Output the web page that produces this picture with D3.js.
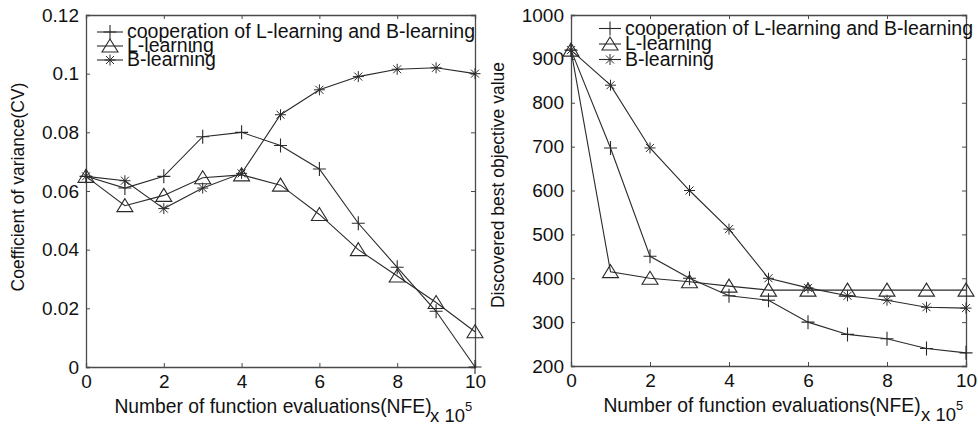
<!DOCTYPE html>
<html>
<head>
<meta charset="utf-8">
<script src="https://cdn.jsdelivr.net/npm/d3@7"></script>
<style>
  html, body { margin: 0; padding: 0; background: #fff; }
  svg { display: block; }
  text { font-family: "Liberation Sans", Arial, Helvetica, sans-serif; fill: #111; }
</style>
</head>
<body>
<svg id="chart" width="978" height="427"></svg>
<script>
// x values: number of function evaluations (in units of 1e5)
const nfe = [0, 1, 2, 3, 4, 5, 6, 7, 8, 9, 10];

const seriesNames = ["cooperation of L-learning and B-learning", "L-learning", "B-learning"];
const seriesMarkers = ["plus", "triangle", "star"];

// Coefficient of variance (CV)
const cvCoop = [0.065, 0.061, 0.065, 0.0785, 0.080, 0.0755, 0.0675, 0.049, 0.034, 0.019, 0.000];
const cvL    = [0.065, 0.055, 0.0585, 0.0645, 0.0655, 0.062, 0.052, 0.040, 0.031, 0.022, 0.012];
const cvB    = [0.065, 0.0635, 0.054, 0.061, 0.066, 0.086, 0.0945, 0.099, 0.1015, 0.102, 0.100];

// Discovered best objective value
const objCoop = [920, 697, 450, 400, 360, 350, 300, 272, 262, 240, 230];
const objL    = [920, 415, 400, 392, 382, 373, 373, 373, 373, 373, 373];
const objB    = [920, 840, 697, 600, 512, 400, 378, 360, 350, 334, 332];

const xTicks = [0, 2, 4, 6, 8, 10];
const cvTicks = [0, 0.02, 0.04, 0.06, 0.08, 0.1, 0.12];
const cvTickLabels = ["0", "0.02", "0.04", "0.06", "0.08", "0.1", "0.12"];
const objTicks = [200, 300, 400, 500, 600, 700, 800, 900, 1000];

const xTitle = "Number of function evaluations(NFE)";

const svg = d3.select("#chart");
const LINE = "#2a2a2a";
const AXIS = "#4a4a4a";

function marker(g, type, cx, cy) {
  if (type === "plus") {
    g.append("path").attr("d", `M${cx-6.5},${cy}H${cx+6.5}M${cx},${cy-7}V${cy+7}`)
      .attr("stroke", LINE).attr("stroke-width", 1.1).attr("fill", "none");
  } else if (type === "triangle") {
    g.append("path").attr("d", `M${cx},${cy-7}L${cx+8},${cy+6}L${cx-8},${cy+6}Z`)
      .attr("stroke", LINE).attr("stroke-width", 1.1).attr("fill", "none");
  } else {
    const r = 5.5, d = 4;
    g.append("path").attr("d",
      `M${cx-r},${cy}H${cx+r}M${cx},${cy-r}V${cy+r}M${cx-d},${cy-d}L${cx+d},${cy+d}M${cx-d},${cy+d}L${cx+d},${cy-d}`)
      .attr("stroke", LINE).attr("stroke-width", 1).attr("fill", "none");
  }
}

function panel(opt) {
  const { left, right, top, bottom, yDomain, yTicks, yFormat, series, yTitle, yTitleX, yTitleY, xTitleX, legend } = opt;
  const g = svg.append("g");
  const x = d3.scaleLinear().domain([0, 10]).range([left, right]);
  const y = d3.scaleLinear().domain(yDomain).range([bottom, top]);

  // box with inward ticks on all four sides
  const axB = d3.axisBottom(x).tickValues(xTicks).tickSize(-4).tickPadding(8).tickFormat(d3.format("d"));
  const axT = d3.axisTop(x).tickValues(xTicks).tickSize(-4).tickFormat("");
  const axL = d3.axisLeft(y).tickValues(yTicks).tickSize(-4).tickPadding(7).tickFormat(yFormat);
  const axR = d3.axisRight(y).tickValues(yTicks).tickSize(-4).tickFormat("");

  const gb = g.append("g").attr("transform", `translate(0,${bottom})`).call(axB);
  const gt = g.append("g").attr("transform", `translate(0,${top})`).call(axT);
  const gl = g.append("g").attr("transform", `translate(${left},0)`).call(axL);
  const gr = g.append("g").attr("transform", `translate(${right},0)`).call(axR);
  [gb, gt, gl, gr].forEach(a => {
    a.selectAll("path.domain").attr("stroke", AXIS).attr("stroke-width", 1.3);
    a.selectAll(".tick line").attr("stroke", AXIS);
    a.selectAll(".tick text").attr("font-size", 19).attr("fill", "#111")
      .attr("font-family", "Liberation Sans, Arial, sans-serif");
  });

  // series lines and markers
  series.forEach((s, i) => {
    const pts = nfe.map((v, k) => [x(v), y(s[k])]);
    g.append("path").attr("d", d3.line()(pts))
      .attr("stroke", LINE).attr("stroke-width", 1.1).attr("fill", "none");
    const mg = g.append("g");
    pts.forEach(p => marker(mg, seriesMarkers[i], p[0], p[1]));
  });

  // legend
  const lg = g.append("g");
  seriesNames.forEach((name, i) => {
    const ly = legend.y + i * legend.dy;
    lg.append("line").attr("x1", legend.x).attr("x2", legend.x + legend.w)
      .attr("y1", ly).attr("y2", ly).attr("stroke", LINE).attr("stroke-width", 1.1);
    marker(lg, seriesMarkers[i], legend.x + legend.w / 2, ly);
    lg.append("text").attr("x", legend.x + legend.w + 4).attr("y", ly).attr("dy", "0.33em")
      .attr("font-size", 19.5).text(name);
  });

  // axis titles
  g.append("text").attr("x", xTitleX).attr("y", bottom + 46)
    .attr("text-anchor", "middle").attr("font-size", 19.3).text(xTitle);
  const ex = g.append("text").attr("x", right - 45).attr("y", bottom + 55).attr("font-size", 18.5);
  ex.append("tspan").text("x 10");
  ex.append("tspan").attr("dy", -11).attr("font-size", 13).text("5");

  g.append("text").attr("transform", `translate(${yTitleX},${yTitleY}) rotate(-90)`)
    .attr("text-anchor", "middle").attr("font-size", 17.5).text(yTitle);
}

panel({
  left: 86, right: 475, top: 15, bottom: 367,
  yDomain: [0, 0.12], yTicks: cvTicks,
  yFormat: (d, i) => cvTickLabels[i],
  series: [cvCoop, cvL, cvB],
  yTitle: "Coefficient of variance(CV)", yTitleX: 24, yTitleY: 187, xTitleX: 273,
  legend: { x: 97, y: 32, dy: 14, w: 26 }
});

panel({
  left: 571, right: 966, top: 15, bottom: 366,
  yDomain: [200, 1000], yTicks: objTicks,
  yFormat: d3.format("d"),
  series: [objCoop, objL, objB],
  yTitle: "Discovered best objective value", yTitleX: 504, yTitleY: 185, xTitleX: 762,
  legend: { x: 599, y: 28.5, dy: 15.5, w: 22 }
});
</script>
</body>
</html>
